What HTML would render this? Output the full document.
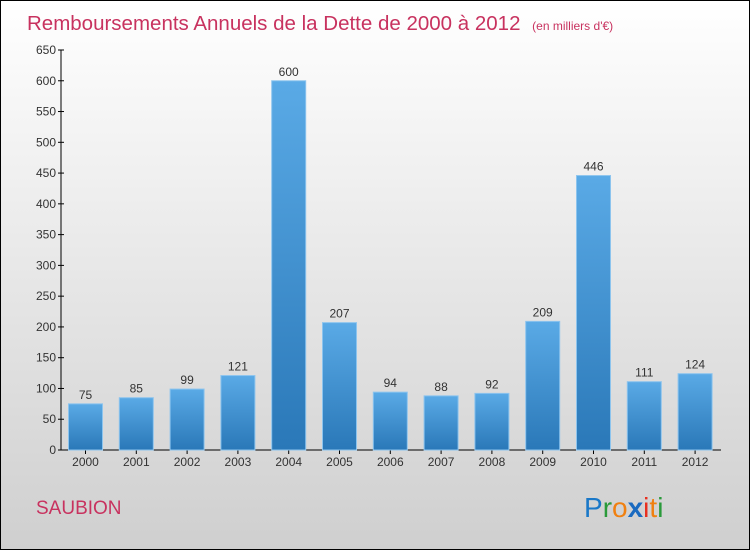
<!DOCTYPE html>
<html><head><meta charset="utf-8"><style>
body{margin:0}
#c{width:748px;height:548px;border:1px solid #000;background:linear-gradient(#fff,#cfcfcf);position:relative;font-family:"Liberation Sans",sans-serif}
</style></head><body>
<div id="c">
<svg width="748" height="548" id="svg">
<defs><linearGradient id="bg" x1="0" y1="0" x2="0" y2="1"><stop offset="0" stop-color="#5aaae6"/><stop offset="1" stop-color="#2a78b8"/></linearGradient></defs>
<text x="26" y="29" font-size="20.5" fill="#c8325f">Remboursements Annuels de la Dette de 2000 à 2012 <tspan font-size="12" dx="6">(en milliers d'€)</tspan></text>
<text x="35" y="513" font-size="19" fill="#c8325f">SAUBION</text>
<g font-size="28" font-family="'Liberation Sans',sans-serif"><text x="583" y="516"><tspan fill="#1a78c8">P</tspan><tspan fill="#2a9a3a">r</tspan><tspan fill="#f08010">o</tspan><tspan fill="#1a6ac0" font-weight="bold">x</tspan><tspan fill="#e83020">i</tspan><tspan fill="#f08010">t</tspan><tspan fill="#2a9a3a">i</tspan></text></g>
<g id="axes"></g><g id="bars"></g>
</svg></div>
<script>
const years=["2000","2001","2002","2003","2004","2005","2006","2007","2008","2009","2010","2011","2012"];
const values=[75,85,99,121,600,207,94,88,92,209,446,111,124];
const ticks=[0,50,100,150,200,250,300,350,400,450,500,550,600,650];
const NS="http://www.w3.org/2000/svg";
const y0=449,yTop=49,vmax=650;
const ys=v=>y0-(v/vmax)*(y0-yTop);
const xs=i=>84.5+i*50.8;
function mk(t,a,p){const e=document.createElementNS(NS,t);for(const k in a)e.setAttribute(k,a[k]);p.appendChild(e);return e;}
const ax=document.getElementById('axes'),bg=document.getElementById('bars');
const yl=mk('line',{x1:60,y1:yTop,x2:60,y2:y0,stroke:'#000'},ax);


const xl=mk('line',{x1:60,y1:y0,x2:720,y2:y0,stroke:'#000'},ax);


ticks.forEach(t=>{const y=ys(t);
mk('line',{x1:57,y1:y,x2:63,y2:y,stroke:'#000'},ax);
const tx=mk('text',{x:55,y:y+4,'font-size':12,fill:'#333','text-anchor':'end'},ax);tx.textContent=t;

});
years.forEach((yr,i)=>{const cx=xs(i),v=values[i],t=ys(v);
const r=mk('rect',{x:cx-17,y:t,width:34,height:y0-t,fill:'url(#bg)',stroke:'#8cc4ee','stroke-width':1},bg);


const lb=mk('text',{x:cx,y:t-5,'font-size':12,fill:'#333','text-anchor':'middle'},bg);lb.textContent=v;


mk('line',{x1:cx,y1:y0,x2:cx,y2:y0+4,stroke:'#000'},ax);
const xt=mk('text',{x:cx,y:y0+16,'font-size':12,fill:'#333','text-anchor':'middle'},ax);xt.textContent=yr;

});
</script>
</body></html>
